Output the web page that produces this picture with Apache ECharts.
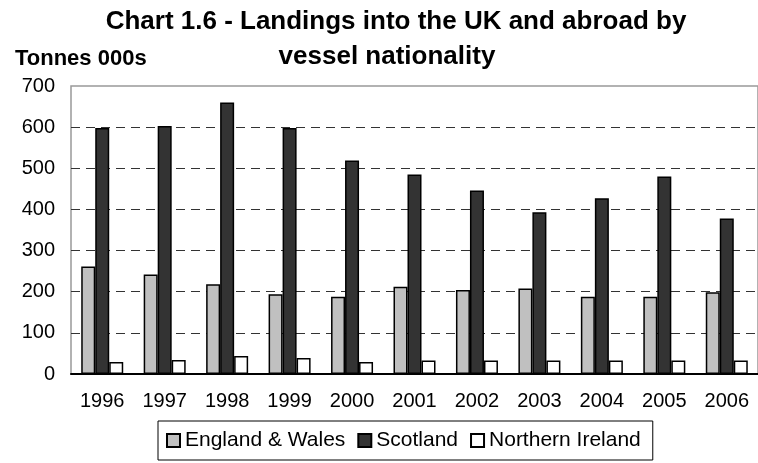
<!DOCTYPE html>
<html>
<head>
<meta charset="utf-8">
<script src="https://cdn.jsdelivr.net/npm/echarts@6/dist/echarts.min.js"></script>
<style>
html,body{margin:0;padding:0;background:#fff;}
#chart{width:758px;height:463px;}
</style>
</head>
<body>
<div id="chart"></div>
<script>
const years = ['1996','1997','1998','1999','2000','2001','2002','2003','2004','2005','2006'];
const englandWales = [261, 242, 218, 194, 188, 212, 204, 208, 188, 188, 199];
const scotland = [598, 603, 660, 598, 519, 485, 446, 393, 427, 480, 378];
const northernIreland = [29, 34, 44, 39, 29, 33, 33, 33, 33, 33, 33];
const yTicks = { min: 0, max: 700, interval: 100 };

const chart = echarts.init(document.getElementById('chart'), null, { renderer: 'canvas' });
const font = 'Liberation Sans, Arial, sans-serif';
const barStyle = (fill) => ({ color: fill, borderColor: '#000', borderWidth: 1.5 });

chart.setOption({
  animation: false,
  backgroundColor: '#fff',
  textStyle: { fontFamily: font },
  title: [
    { text: 'Chart 1.6 - Landings into the UK and abroad by', left: 391, top: 4, textAlign: 'center',
      textStyle: { fontFamily: font, fontWeight: 'bold', fontSize: 26, color: '#000' } },
    { text: 'vessel nationality', left: 382, top: 39, textAlign: 'center',
      textStyle: { fontFamily: font, fontWeight: 'bold', fontSize: 26, color: '#000' } },
    { text: 'Tonnes 000s', left: 10, top: 43,
      textStyle: { fontFamily: font, fontWeight: 'bold', fontSize: 22, color: '#000' } }
  ],
  legend: {
    left: 158, top: 421,
    padding: [9, 12, 9, 8],
    itemWidth: 13, itemHeight: 13, itemGap: 12,
    borderColor: '#000', borderWidth: 1,
    icon: 'rect',
    textStyle: { fontFamily: font, fontSize: 21, color: '#000' },
    data: ['England & Wales', 'Scotland', 'Northern Ireland']
  },
  grid: { left: 71, top: 86, width: 691, height: 288, show: true, borderColor: '#999', borderWidth: 1.5, containLabel: false },
  xAxis: {
    type: 'category', data: years,
    axisLine: { show: true, lineStyle: { color: '#000', width: 2 } },
    axisTick: { show: false },
    axisLabel: { fontFamily: font, fontSize: 20, color: '#000', margin: 17 }
  },
  yAxis: {
    type: 'value', min: yTicks.min, max: yTicks.max, interval: yTicks.interval,
    axisLine: { show: false },
    axisTick: { show: false },
    axisLabel: { fontFamily: font, fontSize: 20, color: '#000', margin: 16 },
    splitLine: { show: true, lineStyle: { type: [9, 6], width: 1.2,
      color: ['transparent', '#333', '#333', '#333', '#333', '#333', '#333', 'transparent'] } }
  },
  series: [
    { name: 'England & Wales', type: 'bar', data: englandWales, barWidth: 14, barGap: '0%', itemStyle: barStyle('#c0c0c0') },
    { name: 'Scotland', type: 'bar', data: scotland, barWidth: 14, barGap: '0%', itemStyle: barStyle('#333333') },
    { name: 'Northern Ireland', type: 'bar', data: northernIreland, barWidth: 14, barGap: '0%', itemStyle: barStyle('#ffffff') }
  ]
});
</script>
</body>
</html>
